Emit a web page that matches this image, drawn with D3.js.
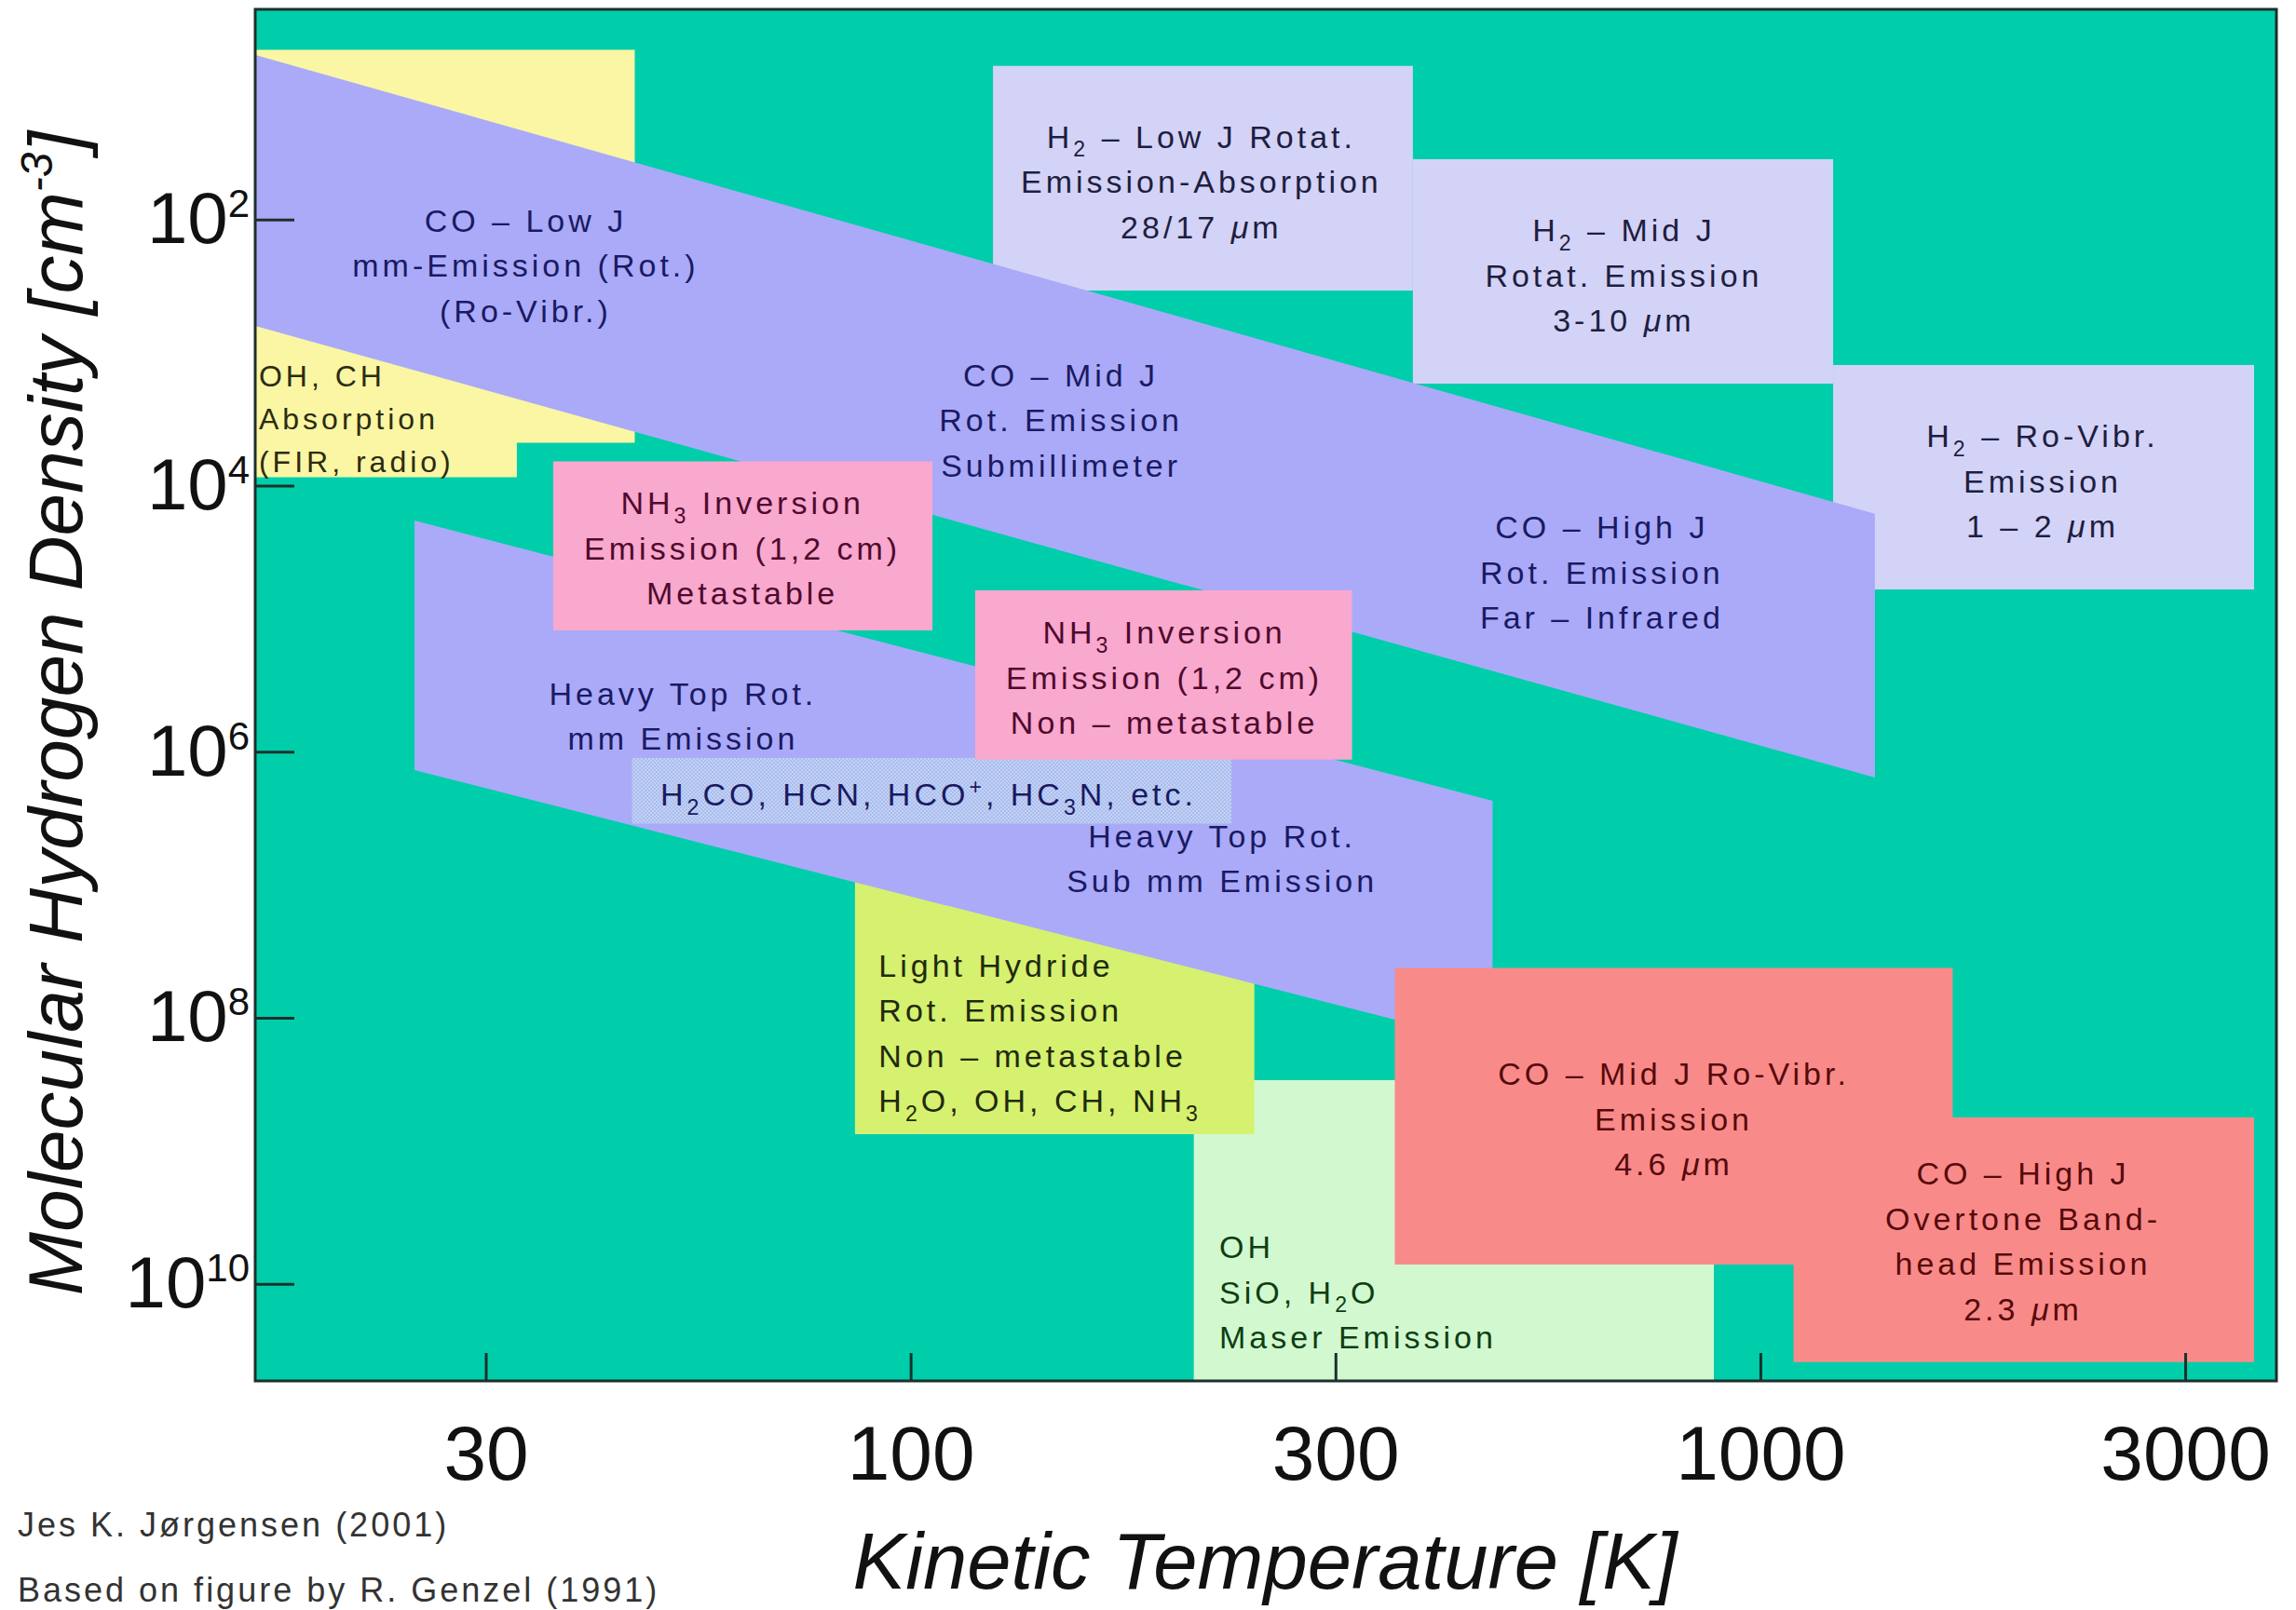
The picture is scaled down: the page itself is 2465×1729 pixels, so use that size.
<!DOCTYPE html>
<html>
<head>
<meta charset="utf-8">
<script src="https://cdn.jsdelivr.net/npm/d3@7"></script>
<style>
  html, body { margin: 0; padding: 0; background: #ffffff; }
  svg { display: block; }
</style>
</head>
<body>
<div id="chart"></div>
<script>
// ---- Axis data -------------------------------------------------------------
// Kinetic temperature [K] (log axis); ticks sit on half decades and carry rounded labels
const tempDomain = [16.93, 4049];
const tempTicks = [31.62, 100, 316.2, 1000, 3162];
const tempTickLabels = ["30", "100", "300", "1000", "3000"];

// Molecular hydrogen density [cm^-3] (log axis, increasing downward)
const densityDomain = [2.63, 5.37e10];
const densityTicks = [1e2, 1e4, 1e6, 1e8, 1e10];

// ---- Regions: [temperature K, density cm^-3] ------------------------------
const ohChAbsorption = [[16.93, 5.3], [47.35, 5.3], [47.35, 4775], [34.4, 4775], [34.4, 8650], [16.93, 8650]];
const h2LowJ   = [[125, 7.0], [390, 7.0], [390, 342], [125, 342]];
const h2MidJ   = [[390, 35.2], [1218, 35.2], [1218, 1713], [390, 1713]];
const h2RoVibr = [[1218, 1241], [3811, 1241], [3811, 60330], [1218, 60330]];
const coRotBand = [[16.93, 5.79], [1364, 16270], [1364, 1.565e6], [16.93, 631]];
const maserBox = [[215.4, 2.946e8], [881.6, 2.946e8], [881.6, 5.37e10], [215.4, 5.37e10]];
const lightHydride = [[86.0, 6.67e6], [253.8, 6.67e6], [253.8, 7.5e8], [86.0, 7.5e8]];
const heavyTopBand = [[26.07, 18310], [484, 2.34e6], [484, 1.589e8], [26.07, 1.375e6]];
const moleculeStrip = [[47.0, 1.116e6], [238.5, 1.116e6], [238.5, 3.48e6], [47.0, 3.48e6]];
const nh3Metastable = [[37.96, 6589], [106.1, 6589], [106.1, 1.226e5], [37.96, 1.226e5]];
const nh3NonMetastable = [[119.1, 61300], [330.7, 61300], [330.7, 1.147e6], [119.1, 1.147e6]];
const coMidRoVibr = [[371.4, 4.225e7], [1684, 4.225e7], [1684, 7.16e9], [371.4, 7.16e9]];
const coHighOvertone = [[1094, 5.61e8], [3811, 5.61e8], [3811, 3.877e10], [1094, 3.877e10]];

// ---- Region labels ("_x" subscript, "^x" superscript) ----------------------
const coLowJText = ["CO – Low J", "mm-Emission (Rot.)", "(Ro-Vibr.)"];
const ohChText = ["OH, CH", "Absorption", "(FIR, radio)"];
const h2LowJText = ["H_2 – Low J Rotat.", "Emission-Absorption", "28/17 μm"];
const h2MidJText = ["H_2 – Mid J", "Rotat. Emission", "3-10 μm"];
const h2RoVibrText = ["H_2 – Ro-Vibr.", "Emission", "1 – 2 μm"];
const coMidJText = ["CO – Mid J", "Rot. Emission", "Submillimeter"];
const coHighJText = ["CO – High J", "Rot. Emission", "Far – Infrared"];
const nh3MetaText = ["NH_3 Inversion", "Emission (1,2 cm)", "Metastable"];
const nh3NonMetaText = ["NH_3 Inversion", "Emission (1,2 cm)", "Non – metastable"];
const heavyTopMmText = ["Heavy Top Rot.", "mm Emission"];
const moleculeText = ["H_2CO, HCN, HCO^+, HC_3N, etc."];
const heavyTopSubMmText = ["Heavy Top Rot.", "Sub mm Emission"];
const lightHydrideText = ["Light Hydride", "Rot. Emission", "Non – metastable", "H_2O, OH, CH, NH_3"];
const maserText = ["OH", "SiO, H_2O", "Maser Emission"];
const coMidRoVibrText = ["CO – Mid J Ro-Vibr.", "Emission", "4.6 μm"];
const coHighOvertoneText = ["CO – High J", "Overtone Band-", "head Emission", "2.3 μm"];

// Label anchors: [temperature, density] of the first baseline
const labelAnchors = [
  [35.24, 123.8], [17.1, 1797], [219.9, 28.9], [690.9, 145.5], [2149, 5125],
  [150.3, 1797], [651, 25060], [63.4, 16360], [198.9, 1.546e5], [53.98, 4.45e5],
  [105.0, 2.537e6], [232.6, 5.2e6], [91.7, 4.91e7], [230.8, 6.4e9], [791, 3.195e8], [2038, 1.792e9]
];

const creditLines = ["Jes K. Jørgensen (2001)", "Based on figure by R. Genzel (1991)"];
const xTitle = "Kinetic Temperature [K]";
const yTitle = "Molecular Hydrogen Density [cm";

// ---- Layout ----------------------------------------------------------------
const W = 2465, H = 1729;
const plot = { left: 274, top: 10, right: 2444, bottom: 1483 };
const FONT = "'Liberation Sans', Arial, Helvetica, sans-serif";

const svg = d3.select("#chart").append("svg")
  .attr("width", W).attr("height", H)
  .attr("viewBox", `0 0 ${W} ${H}`);

const defs = svg.append("defs");
const pat = defs.append("pattern").attr("id", "dither")
  .attr("width", 4).attr("height", 4).attr("patternUnits", "userSpaceOnUse");
pat.append("rect").attr("width", 4).attr("height", 4).attr("fill", "#C4D2F2");
pat.append("rect").attr("width", 2).attr("height", 2).attr("fill", "#A9BDF0");
pat.append("rect").attr("x", 2).attr("y", 2).attr("width", 2).attr("height", 2).attr("fill", "#A9BDF0");

const x = d3.scaleLog().domain(tempDomain).range([plot.left, plot.right]);
const y = d3.scaleLog().domain(densityDomain).range([plot.top, plot.bottom]);

// plot background
svg.append("rect")
  .attr("x", plot.left).attr("y", plot.top)
  .attr("width", plot.right - plot.left).attr("height", plot.bottom - plot.top)
  .attr("fill", "#00CEAA");

const area = d3.line().x(d => x(d[0])).y(d => y(d[1])).curve(d3.curveLinearClosed);
const regions = svg.append("g");
function region(pts, fill) {
  regions.append("path").attr("d", area(pts)).attr("fill", fill);
}

const LAVENDER = "#D3D3F7", BAND = "#AAAAF9", PINK = "#F9A8CE", SALMON = "#F98A8A";

region(ohChAbsorption, "#FAF6A4");
region(h2LowJ, LAVENDER);
region(h2MidJ, LAVENDER);
region(h2RoVibr, LAVENDER);
region(coRotBand, BAND);
region(maserBox, "#D2F8D0");
region(lightHydride, "#D6F070");
region(heavyTopBand, BAND);
region(moleculeStrip, "url(#dither)");
region(nh3Metastable, PINK);
region(nh3NonMetastable, PINK);

// ---- Axes ------------------------------------------------------------------
const AXIS_COLOR = "#1C302C";
const gx = svg.append("g")
  .attr("transform", `translate(0,${plot.bottom})`)
  .call(d3.axisBottom(x).tickValues(tempTicks)
    .tickFormat((d, i) => tempTickLabels[i])
    .tickSizeInner(-30).tickSizeOuter(0).tickPadding(48));
gx.select(".domain").remove();
gx.selectAll(".tick line").attr("stroke", AXIS_COLOR).attr("stroke-width", 3);
gx.selectAll(".tick text")
  .attr("font-family", FONT).attr("font-size", 82).attr("fill", "#111");

const gy = svg.append("g")
  .attr("transform", `translate(${plot.left},0)`)
  .call(d3.axisLeft(y).tickValues(densityTicks)
    .tickFormat(() => "").tickSizeInner(-42).tickSizeOuter(0).tickPadding(6));
gy.select(".domain").remove();
gy.selectAll(".tick line").attr("stroke", AXIS_COLOR).attr("stroke-width", 3);
gy.selectAll(".tick text")
  .attr("font-family", FONT).attr("font-size", 78).attr("fill", "#111")
  .each(function (d) {
    const t = d3.select(this);
    t.append("tspan").text("10");
    t.append("tspan").attr("font-size", 42).attr("dy", -28).text(Math.round(Math.log10(d)));
  });

// CO ro-vibrational boxes sit above the lower tick marks
region(coMidRoVibr, SALMON);
region(coHighOvertone, SALMON);

// frame
svg.append("rect")
  .attr("x", plot.left).attr("y", plot.top)
  .attr("width", plot.right - plot.left).attr("height", plot.bottom - plot.top)
  .attr("fill", "none").attr("stroke", AXIS_COLOR).attr("stroke-width", 3);

// ---- Region labels ---------------------------------------------------------
function richText(sel, str, fs) {
  let buf = "";
  let reset = 0;
  const flush = () => {
    if (!buf) return;
    const ts = sel.append("tspan").text(buf);
    if (reset) { ts.attr("dy", reset); reset = 0; }
    buf = "";
  };
  for (let i = 0; i < str.length; i++) {
    const c = str[i];
    if ((c === "_" || c === "^") && i + 1 < str.length) {
      flush();
      const shift = c === "_" ? 0.28 * fs : -0.36 * fs;
      sel.append("tspan").attr("dy", shift + reset).attr("font-size", fs * 0.68).text(str[i + 1]);
      reset = -shift;
      i++;
    } else if (c === "μ") {
      flush();
      const ts = sel.append("tspan").attr("font-style", "italic").text("μ");
      if (reset) { ts.attr("dy", reset); reset = 0; }
    } else {
      buf += c;
    }
  }
  flush();
}

const labelSpecs = [
  { lines: coLowJText, color: "#1A1A62", anchor: "middle" },
  { lines: ohChText, color: "#2C2C10", anchor: "start", size: 32, gap: 46 },
  { lines: h2LowJText, color: "#1E1E40", anchor: "middle" },
  { lines: h2MidJText, color: "#1E1E40", anchor: "middle" },
  { lines: h2RoVibrText, color: "#1E1E40", anchor: "middle" },
  { lines: coMidJText, color: "#1A1A62", anchor: "middle" },
  { lines: coHighJText, color: "#1A1A62", anchor: "middle" },
  { lines: nh3MetaText, color: "#4E0A2C", anchor: "middle" },
  { lines: nh3NonMetaText, color: "#4E0A2C", anchor: "middle" },
  { lines: heavyTopMmText, color: "#1A1A62", anchor: "middle" },
  { lines: moleculeText, color: "#1A1A62", anchor: "middle" },
  { lines: heavyTopSubMmText, color: "#1A1A62", anchor: "middle" },
  { lines: lightHydrideText, color: "#202A0C", anchor: "start" },
  { lines: maserText, color: "#0E3E12", anchor: "start" },
  { lines: coMidRoVibrText, color: "#560A0A", anchor: "middle" },
  { lines: coHighOvertoneText, color: "#560A0A", anchor: "middle" }
];

const labels = svg.append("g").attr("font-family", FONT);
labelSpecs.forEach((spec, k) => {
  const [t, n] = labelAnchors[k];
  const fs = spec.size || 34;
  const gap = spec.gap || 48.5;
  spec.lines.forEach((line, i) => {
    const txt = labels.append("text")
      .attr("x", x(t)).attr("y", y(n) + i * gap)
      .attr("text-anchor", spec.anchor)
      .attr("font-size", fs)
      .attr("letter-spacing", 4)
      .attr("fill", spec.color);
    richText(txt, line, fs);
  });
});

// ---- Axis titles -----------------------------------------------------------
svg.append("text")
  .attr("x", 1358).attr("y", 1706)
  .attr("text-anchor", "middle")
  .attr("font-family", FONT).attr("font-style", "italic").attr("font-size", 85)
  .attr("fill", "#111")
  .text(xTitle);

const yt = svg.append("text")
  .attr("transform", "translate(88,766) rotate(-90)")
  .attr("text-anchor", "middle")
  .attr("font-family", FONT).attr("font-style", "italic").attr("font-size", 82)
  .attr("fill", "#111");
yt.append("tspan").text(yTitle);
yt.append("tspan").attr("font-size", 48).attr("dy", -32).text("-3");
yt.append("tspan").attr("dy", 32).text("]");

// ---- Credits ---------------------------------------------------------------
svg.append("g").selectAll("text").data(creditLines).join("text")
  .attr("x", 19).attr("y", (d, i) => 1650 + i * 70)
  .attr("font-family", FONT).attr("font-size", 36).attr("letter-spacing", 3)
  .attr("fill", "#333")
  .text(d => d);
</script>
</body>
</html>
